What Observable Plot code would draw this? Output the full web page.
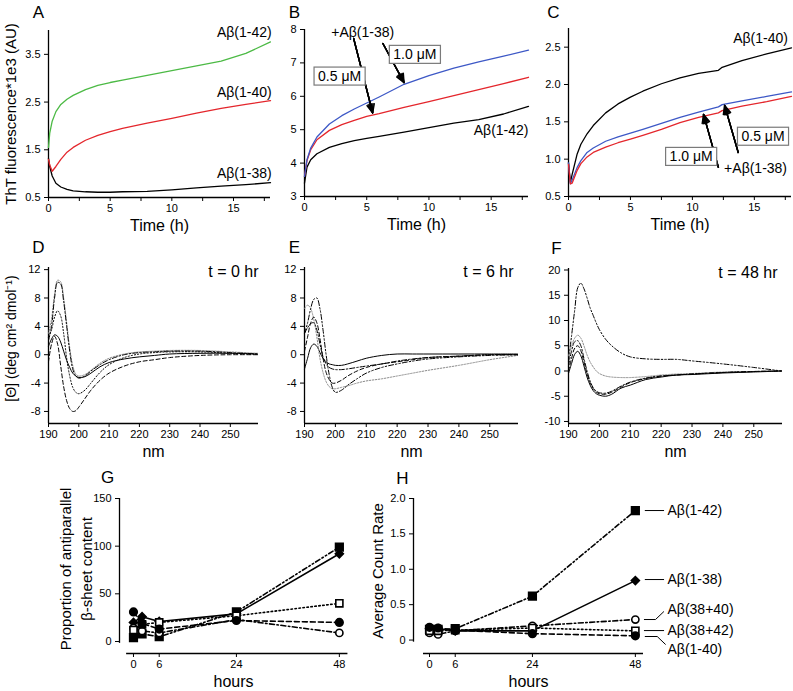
<!DOCTYPE html>
<html><head><meta charset="utf-8">
<script src="https://cdn.jsdelivr.net/npm/d3@7"></script>
<script src="https://cdn.jsdelivr.net/npm/@observablehq/plot@0.6"></script>
<style>
body{margin:0;background:#fff;}
#root{position:relative;width:793px;height:691px;overflow:hidden;background:#fff;}
</style></head><body><div id="root"></div>
<script>
// ---------------- DATA ----------------
// Panel A: ThT fluorescence (x1e3 AU) vs time (h)
const timeA = [0, 0.1, 0.3, 0.6, 1, 1.5, 2, 3, 4, 5, 6, 8, 10, 12, 14, 16, 18];
const thtA_142 = [1.55, 1.85, 2.1, 2.3, 2.45, 2.56, 2.64, 2.76, 2.85, 2.91, 2.96, 3.06, 3.16, 3.26, 3.36, 3.52, 3.76];
const thtA_140 = [1.3, 1.18, 1.05, 1.15, 1.3, 1.45, 1.55, 1.7, 1.8, 1.88, 1.95, 2.06, 2.16, 2.27, 2.37, 2.45, 2.53];
const thtA_138 = [1.32, 1.15, 0.95, 0.8, 0.72, 0.67, 0.64, 0.62, 0.61, 0.61, 0.62, 0.63, 0.66, 0.70, 0.74, 0.77, 0.81];
// Panel B: Aβ(1-42) alone, +0.5 µM and +1.0 µM Aβ(1-38)
const timeB = [0, 0.2, 0.5, 1, 2, 3, 4, 5, 6, 8, 10, 12, 14, 16, 18];
const thtB_142 = [3.4, 3.88, 4.1, 4.28, 4.47, 4.58, 4.67, 4.74, 4.8, 4.93, 5.06, 5.2, 5.3, 5.47, 5.7];
const thtB_142_05 = [3.6, 4.08, 4.4, 4.7, 4.98, 5.15, 5.28, 5.4, 5.48, 5.67, 5.84, 6.02, 6.2, 6.38, 6.57];
const thtB_142_10 = [3.6, 4.1, 4.45, 4.78, 5.17, 5.42, 5.62, 5.8, 5.98, 6.36, 6.62, 6.84, 7.03, 7.2, 7.38];
// Panel C: Aβ(1-40) alone, +0.5 µM and +1.0 µM Aβ(1-38)
const timeC = [0, 0.15, 0.3, 0.7, 1, 1.5, 2, 3, 4, 5, 6, 7.5, 9, 10.5, 12.1, 12.4, 14, 16, 18];
const thtC_140 = [0.95, 0.69, 0.8, 1.07, 1.2, 1.34, 1.45, 1.62, 1.74, 1.83, 1.91, 2.01, 2.09, 2.15, 2.19, 2.23, 2.32, 2.41, 2.49];
const thtC_140_05 = [0.95, 0.67, 0.72, 0.89, 0.98, 1.09, 1.15, 1.24, 1.3, 1.35, 1.4, 1.48, 1.56, 1.63, 1.70, 1.73, 1.78, 1.84, 1.9];
const thtC_140_10 = [0.93, 0.67, 0.68, 0.85, 0.94, 1.03, 1.09, 1.16, 1.22, 1.27, 1.32, 1.4, 1.49, 1.56, 1.62, 1.65, 1.71, 1.77, 1.84];

// CD spectra (nm)
const wavelength = [190,191,192,193,194,195,196,197,198,199,200,202,204,207,210,215,220,225,230,240,250,259];
const cdD_solid      = [1.2,2.2,2.8,2.6,1.8,0.5,-0.8,-1.8,-2.6,-3.0,-3.2,-3.1,-2.6,-1.7,-1.1,-0.6,-0.3,-0.1,0.1,0.2,0.2,0.1];
const cdD_gray       = [3,5,8.5,10.5,10.3,8,4.5,1,-1.5,-2.7,-3,-2.8,-2.2,-1.2,-0.5,0.1,0.4,0.5,0.6,0.6,0.4,0.2];
const cdD_dashdot    = [2,4,8,10.2,10,7.5,4,0.5,-2,-3,-3.3,-3,-2.3,-1.4,-0.7,0,0.3,0.4,0.5,0.5,0.3,0.1];
const cdD_dotted     = [2.5,3.5,5.3,6.2,5.5,3,-0.5,-3,-4.6,-5.3,-5.5,-5,-4,-2.5,-1.4,-0.4,0.1,0.3,0.4,0.4,0.2,0.1];
const cdD_dashed     = [-1,1.5,2.6,1.5,-1.5,-4.5,-6.5,-7.6,-8,-7.9,-7.4,-6.2,-5,-3.6,-2.6,-1.6,-1,-0.7,-0.4,-0.1,0,0];
const cdE_solid      = [-2,-0.5,1.0,1.5,1.2,0.3,-0.5,-1.0,-1.3,-1.4,-1.5,-1.5,-1.3,-0.9,-0.5,-0.1,0.1,0.1,0.1,0.1,0.1,0.1];
const cdE_gray       = [6.5,7,6.5,5,2.5,-0.5,-2.5,-3.8,-4.5,-4.8,-4.8,-4.6,-4.4,-4,-3.7,-3.4,-3.0,-2.6,-2.2,-1.5,-0.7,-0.1];
const cdE_dashdotdot = [3,4.5,6.5,7.8,8,6.5,3.5,0,-2.8,-4.6,-5.3,-5,-4.3,-3.4,-2.6,-1.8,-1.3,-0.9,-0.6,-0.3,-0.1,0];
const cdE_dashed     = [0.5,2.5,4.5,5.3,4.5,2.3,-0.5,-2.5,-3.5,-4,-4,-3.6,-3,-2.3,-1.8,-1.3,-1,-0.7,-0.4,-0.2,0,0];
const cdE_dashdot    = [3,3.8,4.4,4.5,3.5,1.5,-0.3,-1.3,-1.8,-2,-2.1,-2.1,-2,-1.8,-1.6,-1.3,-0.9,-0.6,-0.4,-0.2,0,0];
const cdF_dashdotdot = [2,7,12,16.5,17.4,16.3,14.5,12.5,11,9.5,8.2,6.3,5,3.6,2.8,2.4,2.3,2.3,2.0,1.4,0.7,0];
const cdF_gray       = [3,5,6.5,7.1,6.5,5,3.2,1.8,0.8,0,-0.5,-1,-1.2,-1.3,-1.3,-1.1,-0.8,-0.6,-0.5,-0.2,-0.1,0];
const cdF_solid      = [-0.5,1.5,3.3,3.9,3,1,-1.2,-2.8,-3.9,-4.5,-4.8,-5,-4.6,-3.4,-2.8,-1.7,-1.2,-0.8,-0.7,-0.4,-0.2,0];
const cdF_dashed     = [0,2.5,4.5,5,4,1.8,-0.5,-2.3,-3.5,-4.2,-4.5,-4.6,-4.2,-3.2,-2.3,-1.5,-1,-0.8,-0.6,-0.3,-0.1,0];
const cdF_dashdot    = [1,4,5.8,6,5,2.5,0,-2,-3.3,-4,-4.3,-4.4,-4,-3,-2.2,-1.4,-1,-0.8,-0.6,-0.3,-0.1,0];

// Panels G and H
const hours = [0, 2, 6, 24, 48];
const seriesNames = ["Aβ(1-42)", "Aβ(1-38)", "Aβ(38+40)", "Aβ(38+42)", "Aβ(1-40)"];
const sheet_142   = [4, 8, 5, 31, 99];
const sheet_138   = [20, 26, 21, 29, 92];
const sheet_3840  = [14, 11, 9, 23, 9];
const sheet_3842  = [12, 18, 20, 27, 40];
const sheet_140   = [31, 19, 13, 22, 20];
const rate_142    = [0.15, 0.15, 0.16, 0.62, 1.83];
const rate_138    = [0.16, 0.16, 0.13, 0.13, 0.84];
const rate_3840   = [0.10, 0.08, 0.13, 0.20, 0.29];
const rate_3842   = [0.13, 0.13, 0.14, 0.17, 0.13];
const rate_140    = [0.18, 0.17, 0.14, 0.09, 0.06];

// Tick values
const tickTime = [0, 2.5, 5, 7.5, 10, 12.5, 15, 17.5];
const tickA = [0.5, 1.5, 2.5, 3.5];
const tickB = [3, 4, 5, 6, 7, 8];
const tickC = [0.5, 1.0, 1.5, 2.0, 2.5];
const tickNm = [190, 200, 210, 220, 230, 240, 250];
const tickDE = [-8, -4, 0, 4, 8, 12];
const tickF = [-10, -5, 0, 5, 10, 15, 20];
const tickHours = [0, 6, 24, 48];
const tickG = [0, 50, 100, 150];
const tickH = [0, 0.5, 1.0, 1.5, 2.0];

// ---------------- HELPERS ----------------
const FONT = "'Liberation Sans', Arial, Helvetica, sans-serif";
const BASE = {fontFamily: FONT, fontSize: "11px", color: "black", background: "transparent", overflow: "visible"};
const rows = (xs, ys) => xs.map((x, i) => ({x, y: ys[i]}));
const root = document.getElementById("root");
function place(svg, left, top) {
  svg.style.position = "absolute"; svg.style.left = left + "px"; svg.style.top = top + "px";
  root.appendChild(svg);
}
const ident = d => d;
const CTR = {textAnchor: "middle", lineAnchor: "middle"};
const letter = (L, dx, dy) => Plot.text([L], {text: ident, frameAnchor: "top-left", ...CTR, dx, dy, fontSize: 17});
const xTitle = (s) => Plot.text([s], {text: ident, frameAnchor: "bottom", ...CTR, dy: 28, fontSize: 16});
const yTitle = (s, dx, dy, fs, extra = {}) => Plot.text([s], {text: ident, frameAnchor: "left", ...CTR, dx, dy, rotate: -90, fontSize: fs, ...extra});
const fmtTime = d => (d % 5 === 0 ? String(d) : "");
const fmt1 = d => d.toFixed(1);

function axes(xDomain, yDomain, xTicks, xFmt, yTicks, yFmt) {
  return [
    Plot.axisX({ticks: xTicks, tickFormat: xFmt, tickSize: 4, tickPadding: 3, label: null}),
    Plot.axisY({ticks: yTicks, tickFormat: yFmt, tickSize: 4, tickPadding: 4, label: null}),
    Plot.ruleX([xDomain[0]], {strokeWidth: 1.3}),
    Plot.ruleY([yDomain[0]], {strokeWidth: 1.3})
  ];
}
function filledArrows(data) {
  return [48, 34, 20, 8].map(a => Plot.arrow(data, {x1: "x1", y1: "y1", x2: "x2", y2: "y2",
    headLength: 10, headAngle: a, strokeWidth: 1.4, stroke: "black"}));
}

const GREEN = "#4cba45", RED = "#e4262c", BLUE = "#3d58c6";

// ---------------- ROW 1 ----------------
const timeDomain = [0, 18];
const yDomA = [0.5, 4.0], yDomB = [3, 8], yDomC = [0.5, 2.75];

place(Plot.plot({
  width: 280, height: 235, marginLeft: 48, marginRight: 10, marginTop: 30, marginBottom: 38,
  x: {domain: timeDomain}, y: {domain: yDomA}, style: BASE,
  marks: [
    ...axes(timeDomain, yDomA, tickTime, fmtTime, tickA, fmt1),
    Plot.line(rows(timeA, thtA_138), {x: "x", y: "y", stroke: "black", strokeWidth: 1.3}),
    Plot.line(rows(timeA, thtA_140), {x: "x", y: "y", stroke: RED, strokeWidth: 1.3}),
    Plot.line(rows(timeA, thtA_142), {x: "x", y: "y", stroke: GREEN, strokeWidth: 1.3}),
    Plot.text([{t: 18.1, v: 3.95, s: "Aβ(1-42)"}, {t: 18.1, v: 2.71, s: "Aβ(1-40)"}, {t: 18.1, v: 1.0, s: "Aβ(1-38)"}],
      {x: "t", y: "v", text: "s", textAnchor: "end", fontSize: 14}),
    xTitle("Time (h)"),
    yTitle("ThT fluorescence*1e3 (AU)", -37, 0, 15),
    letter("A", -10, -18)
  ]
}), 0, 0);

const annB = [{t: 4.68, v: 7.91, s: "+Aβ(1-38)"}, {t: 8.87, v: 7.24, s: "1.0 μM"}, {t: 2.82, v: 6.59, s: "0.5 μM"}];
const arrowsB = [{x1: 3.95, y1: 7.73, x2: 5.48, y2: 5.5}, {x1: 6.3, y1: 7.58, x2: 8.0, y2: 6.41}];
place(Plot.plot({
  width: 275, height: 235, marginLeft: 42, marginRight: 9, marginTop: 29, marginBottom: 39,
  x: {domain: timeDomain}, y: {domain: yDomB}, style: BASE,
  marks: [
    ...axes(timeDomain, yDomB, tickTime, fmtTime, tickB, String),
    Plot.line(rows(timeB, thtB_142), {x: "x", y: "y", stroke: "black", strokeWidth: 1.3}),
    Plot.line(rows(timeB, thtB_142_05), {x: "x", y: "y", stroke: RED, strokeWidth: 1.3}),
    Plot.line(rows(timeB, thtB_142_10), {x: "x", y: "y", stroke: BLUE, strokeWidth: 1.3}),
    ...filledArrows(arrowsB),
    Plot.text(annB, {x: "t", y: "v", text: "s", fontSize: 14}),
    Plot.text([{t: 18.0, v: 4.98, s: "Aβ(1-42)"}], {x: "t", y: "v", text: "s", textAnchor: "end", fontSize: 14}),
    xTitle("Time (h)"),
    letter("B", -10, -17)
  ]
}), 262, 0);

const annC = [{t: 15.5, v: 2.62, s: "Aβ(1-40)"}, {t: 15.7, v: 1.30, s: "0.5 μM"}, {t: 9.9, v: 1.03, s: "1.0 μM"}, {t: 15.1, v: 0.875, s: "+Aβ(1-38)"}];
const arrowsC = [{x1: 12.1, y1: 0.89, x2: 10.9, y2: 1.6}, {x1: 13.7, y1: 1.09, x2: 12.6, y2: 1.72}];
place(Plot.plot({
  width: 268, height: 235, marginLeft: 43, marginRight: 2, marginTop: 28, marginBottom: 39,
  x: {domain: timeDomain}, y: {domain: yDomC}, style: BASE,
  marks: [
    ...axes(timeDomain, yDomC, tickTime, fmtTime, tickC, fmt1),
    Plot.line(rows(timeC, thtC_140), {x: "x", y: "y", stroke: "black", strokeWidth: 1.3}),
    Plot.line(rows(timeC, thtC_140_05), {x: "x", y: "y", stroke: BLUE, strokeWidth: 1.3}),
    Plot.line(rows(timeC, thtC_140_10), {x: "x", y: "y", stroke: RED, strokeWidth: 1.3}),
    ...filledArrows(arrowsC),
    Plot.text(annC, {x: "t", y: "v", text: "s", fontSize: 14}),
    xTitle("Time (h)"),
    letter("C", -15, -16)
  ]
}), 525, 0);

// ---------------- ROW 2 (CD) ----------------
const nmDomain = [190, 259.3];
const yDomD = [-9.7, 12.3], yDomF = [-10.4, 20.3];
const STY = {
  solid: {stroke: "black", strokeDasharray: null},
  gray: {stroke: "#8a8a8a", strokeDasharray: "1.5,1.5"},
  dotted: {stroke: "black", strokeDasharray: "1.2,2"},
  dashed: {stroke: "black", strokeDasharray: "4,2.5"},
  dashdot: {stroke: "black", strokeDasharray: "5,2,1.5,2"},
  dashdotdot: {stroke: "black", strokeDasharray: "5,2,1.5,2,1.5,2"}
};
function cdLine(vals, style) {
  const o = {x: "x", y: "y", curve: "catmull-rom", strokeWidth: 1, stroke: STY[style].stroke};
  if (STY[style].strokeDasharray) o.strokeDasharray = STY[style].strokeDasharray;
  return Plot.line(rows(wavelength, vals), o);
}
function cdPanel(cfg) {
  return Plot.plot({
    width: cfg.w, height: 222, marginLeft: cfg.mL, marginRight: cfg.mR, marginTop: cfg.mT, marginBottom: 37,
    x: {domain: nmDomain}, y: {domain: cfg.yDom}, style: BASE,
    marks: [
      ...axes(nmDomain, cfg.yDom, tickNm, String, cfg.yTicks, String),
      ...cfg.lines,
      Plot.text([cfg.title], {text: ident, frameAnchor: "top-right", textAnchor: "end", lineAnchor: "top", dx: cfg.tdx, dy: -2, fontSize: 16}),
      xTitle("nm"),
      ...(cfg.extra || []),
      letter(cfg.L, cfg.ldx, -20)
    ]
  });
}
place(cdPanel({w: 265, mL: 48, mR: 7, mT: 29, yDom: yDomD, yTicks: tickDE, title: "t = 0 hr", tdx: 0, L: "D", ldx: -10,
  lines: [cdLine(cdD_solid, "solid"), cdLine(cdD_gray, "gray"), cdLine(cdD_dashdot, "dashdot"), cdLine(cdD_dotted, "dotted"), cdLine(cdD_dashed, "dashed")],
  extra: [yTitle("[Θ] (deg cm² dmol⁻¹)", -37, -7, 14)]
}), 0, 238);
place(cdPanel({w: 262, mL: 42, mR: 6, mT: 29, yDom: yDomD, yTicks: tickDE, title: "t = 6 hr", tdx: -5, L: "E", ldx: -10,
  lines: [cdLine(cdE_solid, "solid"), cdLine(cdE_gray, "gray"), cdLine(cdE_dashdotdot, "dashdotdot"), cdLine(cdE_dashed, "dashed"), cdLine(cdE_dashdot, "dashdot")]
}), 262, 238);
place(cdPanel({w: 268, mL: 43, mR: 11, mT: 30, yDom: yDomF, yTicks: tickF, title: "t = 48 hr", tdx: -5, L: "F", ldx: -12,
  lines: [cdLine(cdF_dashdotdot, "dashdotdot"), cdLine(cdF_gray, "gray"), cdLine(cdF_solid, "solid"), cdLine(cdF_dashed, "dashed"), cdLine(cdF_dashdot, "dashdot")]
}), 525, 238);

// ---------------- ROW 3 ----------------
const MARK = [
  {dash: "5,2.5,1.5,2.5,1.5,2.5", symbol: "square", fill: "black", r: 4.3, rot: 0},
  {dash: null, symbol: "square", fill: "black", r: 3.2, rot: 45},
  {dash: "5,2.5,1.5,2.5", symbol: "circle", fill: "white", r: 3.6, rot: 0},
  {dash: "1.5,2.5", symbol: "square", fill: "white", r: 4.0, rot: 0},
  {dash: "5,3", symbol: "circle", fill: "black", r: 3.8, rot: 0}
];
function seriesMarks(valueLists) {
  const out = [];
  valueLists.forEach((vals, i) => {
    const o = {x: "x", y: "y", stroke: "black", strokeWidth: 1.6};
    if (MARK[i].dash) o.strokeDasharray = MARK[i].dash;
    out.push(Plot.line(rows(hours, vals), o));
  });
  valueLists.forEach((vals, i) => {
    const o = {x: "x", y: "y", symbol: MARK[i].symbol, r: MARK[i].r,
      fill: MARK[i].fill, stroke: "black", strokeWidth: 1.6};
    if (MARK[i].rot) o.rotate = MARK[i].rot;
    out.push(Plot.dot(rows(hours, vals), o));
  });
  return out;
}
const xDomG = [-3.26, 49.9], yDomG = [-12.6, 150];
place(Plot.plot({
  width: 360, height: 226, marginLeft: 119, marginRight: 13, marginTop: 33, marginBottom: 38,
  x: {domain: xDomG}, y: {domain: yDomG}, style: BASE,
  marks: [
    Plot.axisX({ticks: tickHours, tickSize: 4, tickPadding: 3, label: null}),
    Plot.axisY({ticks: tickG, tickSize: 4, tickPadding: 4, label: null}),
    Plot.ruleX([xDomG[0]], {y1: -2, y2: 150, strokeWidth: 1.3}),
    Plot.ruleY([yDomG[0]], {x1: -1.6, x2: 50, strokeWidth: 1.3}),
    ...seriesMarks([sheet_142, sheet_138, sheet_3840, sheet_3842, sheet_140]),
    xTitle("hours"),
    yTitle("Proportion of antiparallel\nβ-sheet content", -45, -7, 15, {lineHeight: 1.4}),
    letter("G", -12, -21)
  ]
}), 0, 465);

const xDomH = [-3.73, 49.9], yDomH = [-0.19, 2.0];
const labelsH = [
  {x: 55.5, y: 1.83, s: seriesNames[0]}, {x: 55.5, y: 0.855, s: seriesNames[1]},
  {x: 55.5, y: 0.43, s: seriesNames[2]}, {x: 55.5, y: 0.134, s: seriesNames[3]}, {x: 55.5, y: -0.134, s: seriesNames[4]}
];
const leadersH = [
  [{x: 50.3, y: 1.83}, {x: 54.6, y: 1.83}],
  [{x: 50.3, y: 0.855}, {x: 54.6, y: 0.855}],
  [{x: 50.1, y: 0.29}, {x: 52.7, y: 0.29}, {x: 54.6, y: 0.40}],
  [{x: 50.1, y: 0.134}, {x: 54.6, y: 0.134}],
  [{x: 50.3, y: 0.05}, {x: 53.1, y: 0.05}, {x: 55.0, y: -0.06}]
];
place(Plot.plot({
  width: 433, height: 226, marginLeft: 53, marginRight: 150, marginTop: 33, marginBottom: 38,
  x: {domain: xDomH}, y: {domain: yDomH}, style: BASE,
  marks: [
    Plot.axisX({ticks: tickHours, tickSize: 4, tickPadding: 3, label: null}),
    Plot.axisY({ticks: tickH, tickFormat: d => (d === 0 ? "0" : d.toFixed(1)), tickSize: 4, tickPadding: 4, label: null}),
    Plot.ruleX([xDomH[0]], {y1: -0.03, y2: 2.0, strokeWidth: 1.3}),
    Plot.ruleY([yDomH[0]], {x1: -1.4, x2: 49.9, strokeWidth: 1.3}),
    ...seriesMarks([rate_142, rate_138, rate_3840, rate_3842, rate_140]),
    ...leadersH.map(l => Plot.line(l, {x: "x", y: "y", stroke: "black", strokeWidth: 1})),
    Plot.text(labelsH, {x: "x", y: "y", text: "s", textAnchor: "start", fontSize: 14}),
    xTitle("hours"),
    yTitle("Average Count Rate", -35, -5, 15),
    letter("H", -11, -20)
  ]
}), 360, 465);

// ---------------- boxed concentration labels ----------------
root.querySelectorAll("text").forEach(t => {
  if (!t.textContent.includes("μM")) return;
  const b = t.getBBox();
  const r = document.createElementNS("http://www.w3.org/2000/svg", "rect");
  r.setAttribute("x", b.x - 4); r.setAttribute("y", b.y - 1);
  r.setAttribute("width", b.width + 8); r.setAttribute("height", b.height + 2);
  r.setAttribute("fill", "white"); r.setAttribute("stroke", "#7a7a7a"); r.setAttribute("stroke-width", "1.2");
  const tr = t.getAttribute("transform"); if (tr) r.setAttribute("transform", tr);
  t.parentNode.insertBefore(r, t);
});
</script></body></html>
